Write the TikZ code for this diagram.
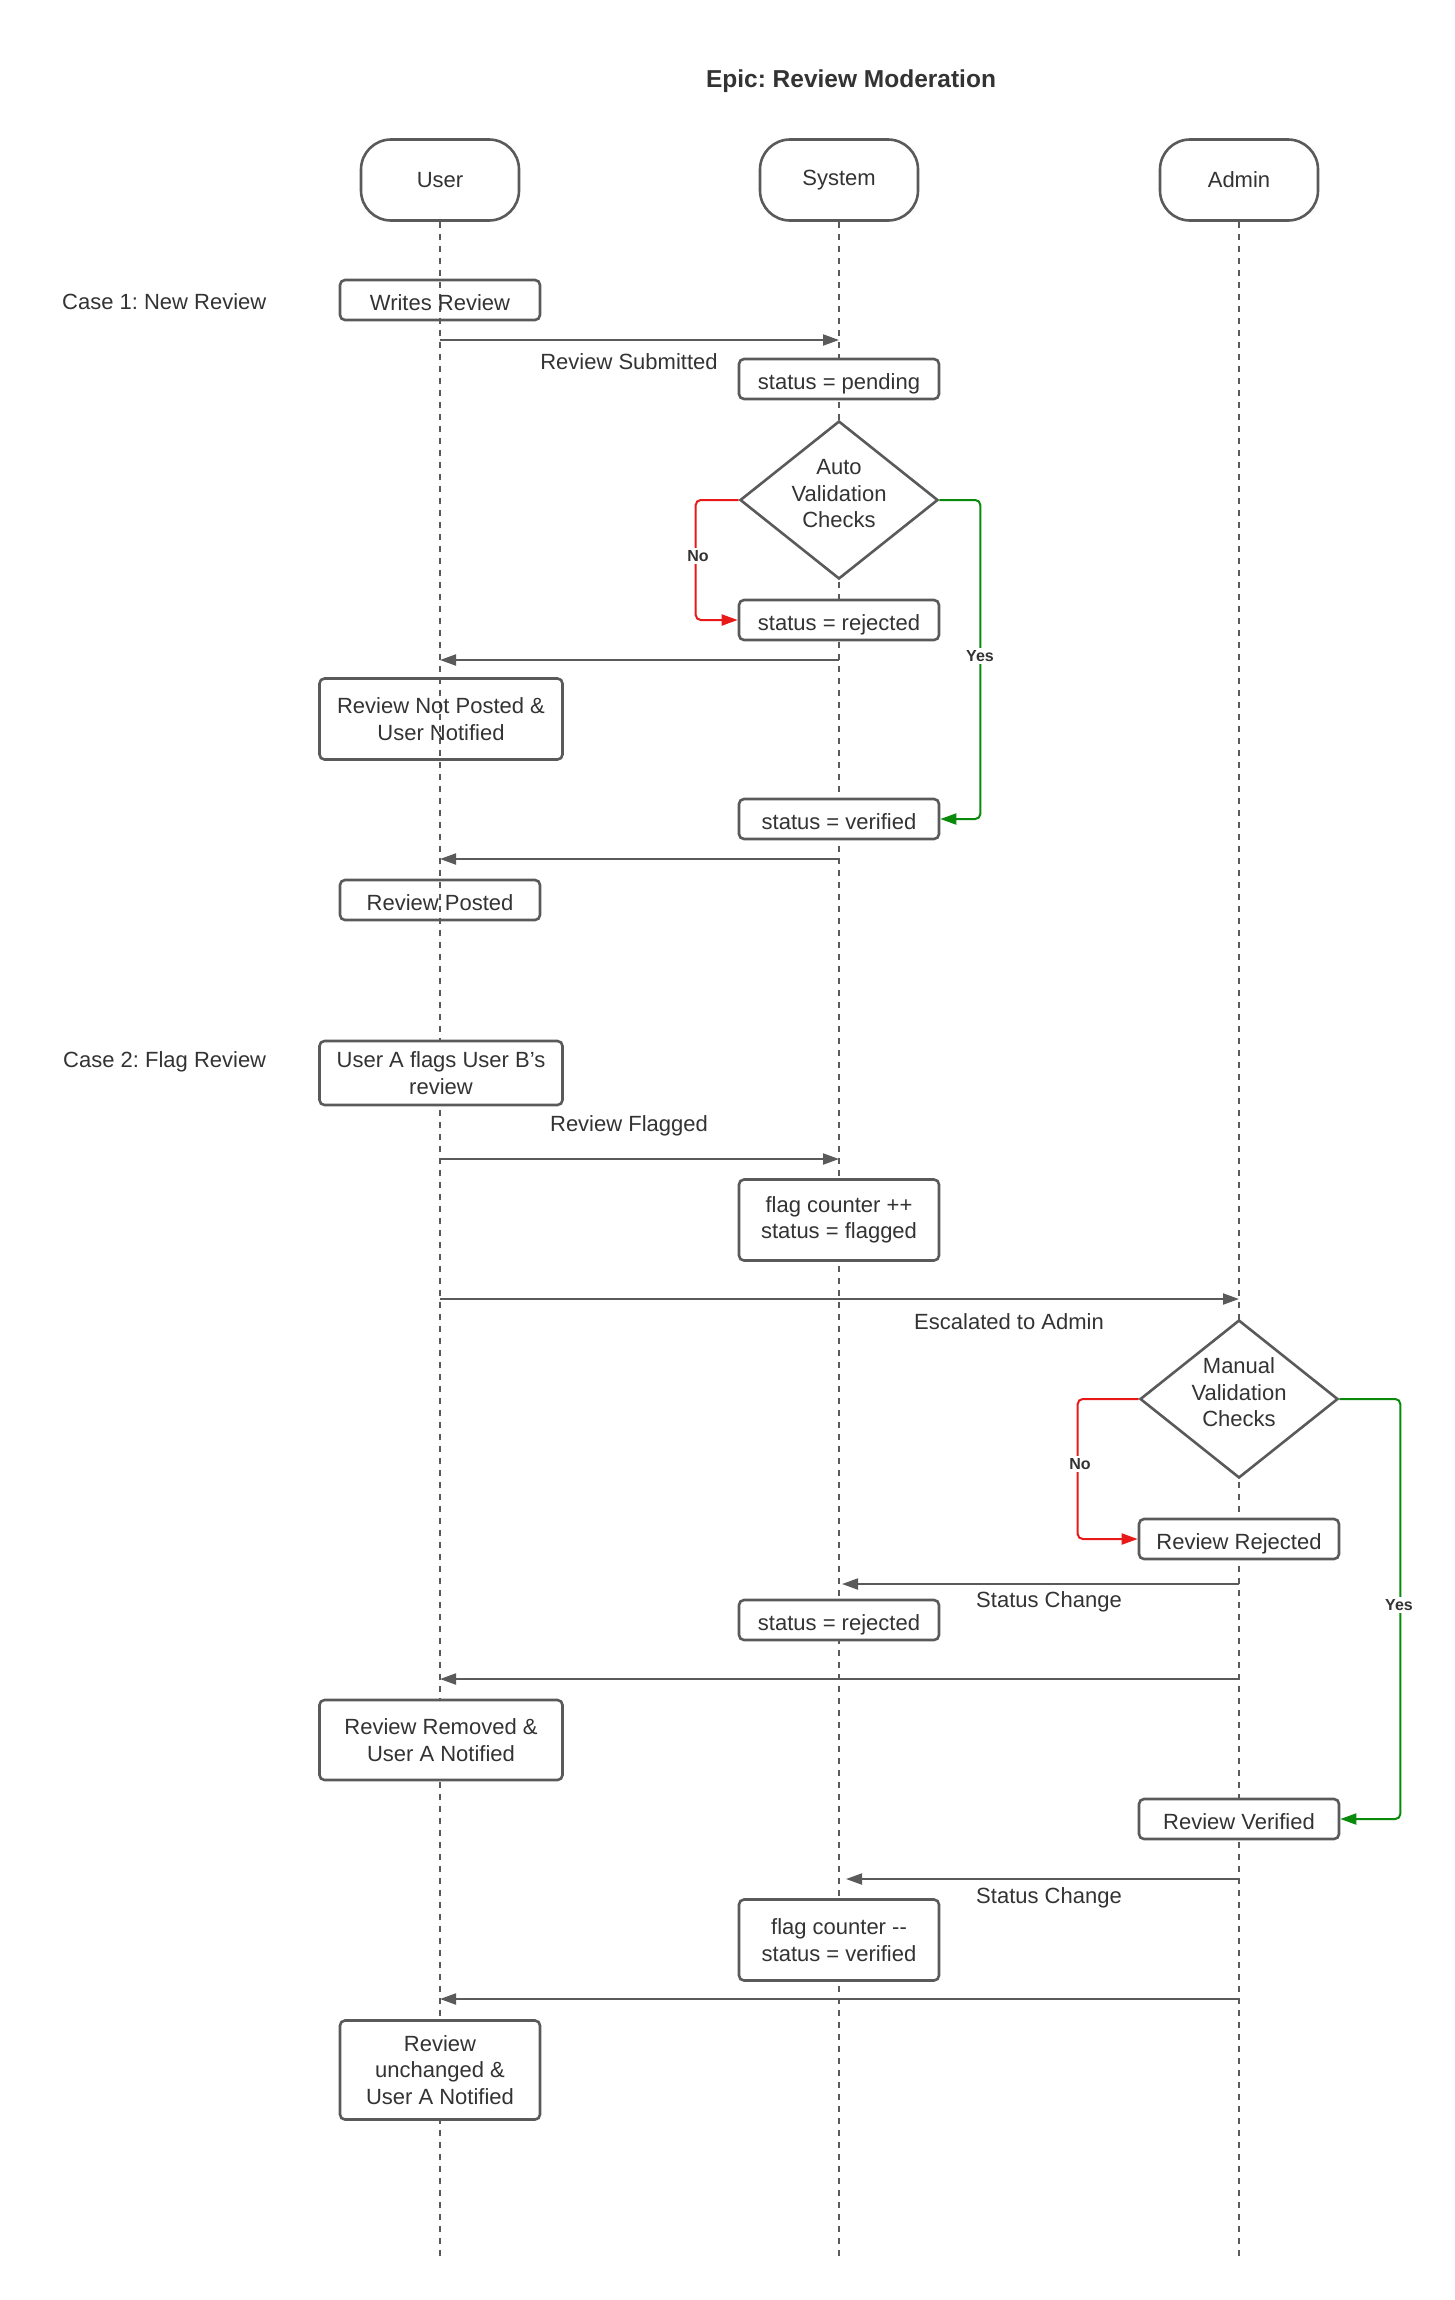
\documentclass[tikz,border=0pt]{standalone}
\usepackage{fontspec}
\setmainfont{Liberation Sans}
\usetikzlibrary{arrows.meta,shapes.geometric}
\definecolor{ln}{HTML}{5A5A5A}
\definecolor{tx}{HTML}{333333}
\definecolor{rd}{HTML}{E81919}
\definecolor{gn}{HTML}{0A8A0A}
\newcommand{\dtext}[1]{\raisebox{0pt}[41pt][39pt]{\begin{tabular}{@{}c@{}}#1\end{tabular}}}
\frenchspacing
\begin{document}
\begin{tikzpicture}[x=1pt,y=-1pt,
 every node/.style={text=tx, font=\fontsize{22}{26.5}\selectfont},
 head/.style={draw=ln, line width=2.6pt, rounded corners=30pt, minimum width=158pt, minimum height=81pt, inner sep=0, fill=white},
 box/.style={draw=ln, line width=2.6pt, rounded corners=5pt, minimum height=40pt, minimum width=200pt, inner sep=0, align=center},
 one/.style={text height=20pt, text depth=0pt},
 wbox/.style={box, fill=white},
 dec/.style={draw=ln, line width=2.6pt, diamond, aspect=1.25, minimum width=198pt, minimum height=158pt, inner sep=0, fill=white},
 life/.style={draw=ln, line width=1.5pt, dash pattern=on 6pt off 6pt},
 msg/.style={draw=ln, line width=2pt, -{Triangle[length=16pt,width=11pt]}},
 nolink/.style={draw=rd, line width=2pt, rounded corners=5pt, -{Triangle[length=16pt,width=11pt]}},
 yeslink/.style={draw=gn, line width=2pt, rounded corners=5pt, -{Triangle[length=16pt,width=11pt]}},
 yn/.style={font=\bfseries\fontsize{16}{18}\selectfont, fill=white, inner sep=2pt},
 caselbl/.style={anchor=west, inner sep=0}
]
\useasboundingbox (0,0) rectangle (1455,2300);

\node[font=\bfseries\fontsize{24.5}{28}\selectfont] (title) at (851,81) {Epic: Review Moderation};

% heads
\node[head] (uh) at (440,180) {User};
\node[head] (sh) at (839,180) {System};
\node[head] (ah) at (1239,180) {Admin};

% lifelines
\coordinate (uend) at (440,2259);
\coordinate (send) at (839,2259);
\coordinate (aend) at (1239,2259);
\draw[life] (uh.south) -- (uend);
\draw[life] (sh.south) -- (send);
\draw[life] (ah.south) -- (aend);

% case labels
\node[caselbl] (c1) at (62,302) {Case 1: New Review};
\node[caselbl] (c2) at (63,1062) {Case 2: Flag Review};

% Case 1
\node[box, one] (wr) at (440,300) {Writes Review};
\coordinate (m1a) at (440,340); \coordinate (m1b) at (839,340);
\draw[msg] (m1a) -- (m1b);
\node (l1) at (629,362) {Review Submitted};
\node[wbox, one] (pend) at (839,379) {status = pending};
\node[dec] (auto) at (839,500) {\dtext{Auto\\Validation\\Checks}};
\node[wbox, one] (rej1) at (839,620) {status = rejected};
\draw[nolink] (auto.west) -- ++(-43,0) |- (rej1.west);
\node[yn] (no1) at (698,556) {No};
\node[wbox, one] (ver1) at (839,819) {status = verified};
\draw[yeslink] (auto.east) -- ++(41,0) |- (ver1.east);
\node[yn] (yes1) at (980,656) {Yes};
\coordinate (m2a) at (839,660); \coordinate (m2b) at (440,660);
\draw[msg] (m2a) -- (m2b);
\node[box, minimum width=243pt, minimum height=81pt] (np) at (441,719) {Review Not Posted \&\\User Notified};
\coordinate (m3a) at (839,859); \coordinate (m3b) at (440,859);
\draw[msg] (m3a) -- (m3b);
\node[box, one] (rp) at (440,900) {Review Posted};

% Case 2
\node[wbox, minimum width=243pt, minimum height=64pt] (fl) at (441,1073) {User A flags User B's\\review};
\node (l2) at (629,1126) {Review Flagged};
\coordinate (m4a) at (440,1159); \coordinate (m4b) at (839,1159);
\draw[msg] (m4a) -- (m4b);
\node[wbox, minimum height=81pt] (fc1) at (839,1220) {flag counter ++\\status = flagged};
\coordinate (m5a) at (440,1299); \coordinate (m5b) at (1239,1299);
\draw[msg] (m5a) -- (m5b);
\node (l3) at (1009,1322) {Escalated to Admin};
\node[dec] (man) at (1239,1399) {\dtext{Manual\\Validation\\Checks}};
\node[wbox, one] (rr) at (1239,1539) {Review Rejected};
\draw[nolink] (man.west) -- ++(-61,0) |- (rr.west);
\node[yn] (no2) at (1080,1464) {No};
\node[wbox, one] (rv) at (1239,1819) {Review Verified};
\draw[yeslink] (man.east) -- ++(61,0) |- (rv.east);
\node[yn] (yes2) at (1399,1605) {Yes};

\coordinate (m6a) at (1239,1584); \coordinate (m6b) at (842,1584);
\draw[msg] (m6a) -- (m6b);
\node (l4) at (1049,1602) {Status Change};
\node[wbox, one] (rej2) at (839,1620) {status = rejected};
\coordinate (m7a) at (1239,1679); \coordinate (m7b) at (440,1679);
\draw[msg] (m7a) -- (m7b);
\node[wbox, minimum width=243pt, minimum height=80pt] (rm) at (441,1740) {Review Removed \&\\User A Notified};

\coordinate (m8a) at (1239,1879); \coordinate (m8b) at (846,1879);
\draw[msg] (m8a) -- (m8b);
\node (l5) at (1049,1898) {Status Change};
\node[wbox, minimum height=81pt] (fc2) at (839,1940) {flag counter -{}-\\status = verified};
\coordinate (m9a) at (1239,1999); \coordinate (m9b) at (440,1999);
\draw[msg] (m9a) -- (m9b);
\node[wbox, minimum height=99pt] (un) at (440,2070) {Review\\unchanged \&\\User A Notified};
\end{tikzpicture}
\end{document}
